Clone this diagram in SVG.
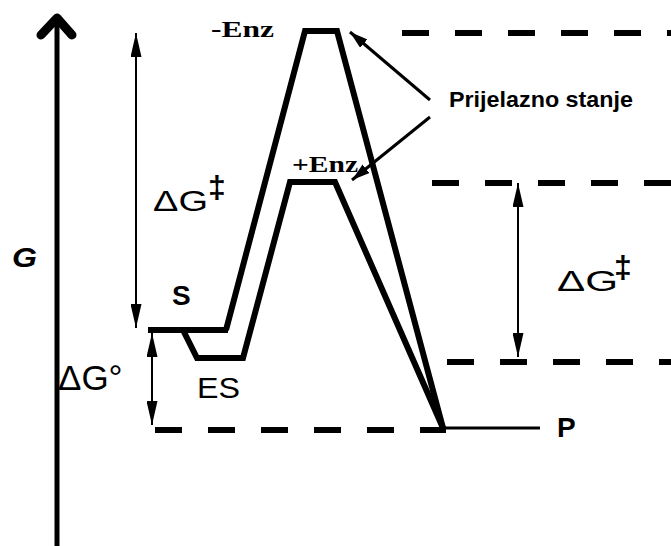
<svg xmlns="http://www.w3.org/2000/svg" width="671" height="546" viewBox="0 0 671 546">
<defs>
<style>
.axis{stroke:#000;stroke-width:5;fill:none}
.curve{stroke:#000;stroke-width:6;fill:none;stroke-linejoin:miter}
.thin{stroke:#000;stroke-width:2;fill:none}
.dash{stroke:#000;stroke-width:6;fill:none;stroke-dasharray:27 26}
.sans{font-family:"Liberation Sans",Arial,sans-serif;fill:#000}
.serif{font-family:"Liberation Serif","Times New Roman",serif;font-weight:bold;fill:#000}
</style>
<marker id="ah" markerUnits="userSpaceOnUse" markerWidth="24" markerHeight="11" refX="24" refY="5.5" orient="auto-start-reverse" viewBox="0 0 24 11">
<path d="M0,0 L24,5.5 L0,11 Z" fill="#000"/>
</marker>
<marker id="ahs" markerUnits="userSpaceOnUse" markerWidth="18" markerHeight="11" refX="18" refY="5.5" orient="auto" viewBox="0 0 18 11">
<path d="M0,0 L18,5.5 L0,11 Z" fill="#000"/>
</marker>
</defs>
<rect width="671" height="546" fill="#fff"/>

<g id="axis">
<line class="axis" x1="57" y1="546" x2="57" y2="20"/>
<polyline points="41,35 57,18 72,35" fill="none" stroke="#000" stroke-width="9" stroke-linecap="round" stroke-linejoin="round"/>
<text class="sans" x="12" y="267" font-size="28" font-weight="bold" font-style="italic" textLength="25" lengthAdjust="spacingAndGlyphs">G</text>
</g>

<g id="levels">
<line class="dash" x1="402" y1="33" x2="671" y2="33"/>
<line class="dash" x1="432" y1="183" x2="671" y2="183"/>
<line class="dash" x1="447" y1="362" x2="671" y2="362"/>
<line class="dash" x1="155" y1="430" x2="446" y2="430"/>
</g>

<g id="path-no-enzyme">
<polyline class="curve" stroke-width="5" points="148,330 228,330"/>
<polyline class="curve" points="226,330 305,31 337,31 443,428"/>
<text class="serif" x="211" y="37" font-size="24" textLength="63" lengthAdjust="spacingAndGlyphs">-Enz</text>
</g>

<g id="path-enzyme">
<polyline class="curve" points="183,330 197,358 243,358 290,182 335,182 443,428"/>
<text class="serif" x="292" y="172" font-size="23" textLength="66" lengthAdjust="spacingAndGlyphs">+Enz</text>
</g>

<g id="S">
<text class="sans" x="172" y="305" font-size="28" font-weight="bold">S</text>
</g>
<g id="ES">
<text class="sans" x="197" y="398" font-size="30" textLength="43" lengthAdjust="spacingAndGlyphs">ES</text>
</g>
<g id="P">
<line x1="443" y1="428" x2="540" y2="428" stroke="#000" stroke-width="3"/>
<text class="sans" x="557" y="437" font-size="28" font-weight="bold">P</text>
</g>

<g id="transition-label">
<text class="sans" x="449" y="107" font-size="22" font-weight="bold" textLength="184" lengthAdjust="spacingAndGlyphs">Prijelazno stanje</text>
</g>

<g id="connectors">
<line class="thin" x1="136" y1="33" x2="136" y2="328" marker-start="url(#ah)" marker-end="url(#ah)"/>
<line class="thin" x1="152" y1="333" x2="152" y2="425" marker-start="url(#ah)" marker-end="url(#ah)"/>
<line class="thin" x1="518" y1="183" x2="518" y2="357" marker-start="url(#ah)" marker-end="url(#ah)"/>
<line x1="430" y1="100" x2="350" y2="32" stroke="#000" stroke-width="3" marker-end="url(#ahs)"/>
<line x1="430" y1="117" x2="352" y2="180" stroke="#000" stroke-width="3" marker-end="url(#ahs)"/>
</g>

<g id="dG-left">
<text class="sans" x="153" y="211" font-size="30" textLength="55" lengthAdjust="spacingAndGlyphs">ΔG</text>
<text class="sans" x="208" y="198" font-size="32" font-weight="bold">‡</text>
</g>
<g id="dG-right">
<text class="sans" x="557" y="291" font-size="30" textLength="61" lengthAdjust="spacingAndGlyphs">ΔG</text>
<text class="sans" x="614" y="278" font-size="32" font-weight="bold">‡</text>
</g>
<g id="dG0">
<text class="sans" x="58" y="390" font-size="35">ΔG°</text>
</g>
</svg>
